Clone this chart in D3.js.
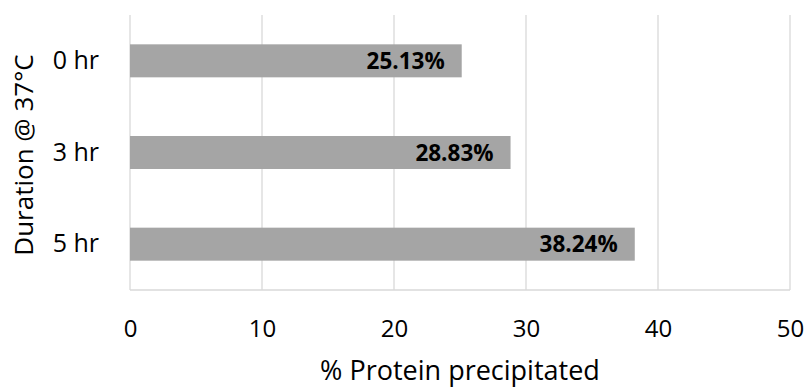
<!DOCTYPE html>
<html><head><meta charset="utf-8">
<script src="https://cdn.jsdelivr.net/npm/d3@7"></script>
<style>body{margin:0;background:#fff}svg{display:block}text{font-family:"Open Sans","Noto Sans",sans-serif}</style>
</head><body>
<svg id="c" width="806" height="388"></svg>
<script>
const categories = ["0 hr","3 hr","5 hr"];
const values = [25.13, 28.83, 38.24];
const xTicks = [0,10,20,30,40,50];
const xTitle = "% Protein precipitated";
const yTitle = "Duration @ 37°C";

const svg = d3.select("#c");
const m = {l:130, r:16, t:15, b:98};
const W = 806, H = 388;
const x = d3.scaleLinear().domain([0,50]).range([m.l, W-m.r]);
const y = d3.scaleBand().domain(categories).range([m.t, H-m.b]).paddingInner(0.64).paddingOuter(0.32);

svg.append("g").selectAll("line").data(xTicks).join("line")
  .attr("x1", d=>x(d)).attr("x2", d=>x(d)).attr("y1", m.t).attr("y2", H-m.b)
  .attr("stroke","#d9d9d9").attr("stroke-width",1.3);
svg.append("line").attr("x1",m.l).attr("x2",W-m.r).attr("y1",H-m.b).attr("y2",H-m.b)
  .attr("stroke","#d9d9d9").attr("stroke-width",1.3);

svg.append("g").selectAll("rect").data(values).join("rect")
  .attr("x", x(0)).attr("y",(d,i)=>y(categories[i]))
  .attr("width", d=>x(d)-x(0)).attr("height", y.bandwidth())
  .attr("fill","#a5a5a5");

svg.append("g").selectAll("text").data(values).join("text")
  .attr("x", d=>x(d)-17).attr("y",(d,i)=>y(categories[i])+y.bandwidth()/2)
  .attr("dy","0.36em").attr("text-anchor","end")
  .style("font-size","22.5px").attr("font-weight","bold").attr("fill","#000")
  .text(d=>d.toFixed(2)+"%");

const xa = svg.append("g").attr("transform",`translate(0,${H-m.b})`)
  .call(d3.axisBottom(x).tickValues(xTicks).tickSize(0).tickPadding(0));
xa.select(".domain").remove();
xa.selectAll("text").attr("dy",null).attr("y",47).style("font-size","24px").attr("fill","#000").attr("font-family",null);

const ya = svg.append("g").attr("transform",`translate(${m.l},0)`)
  .call(d3.axisLeft(y).tickSize(0).tickPadding(31));
ya.select(".domain").remove();
ya.selectAll("text").style("font-size","25px").attr("fill","#000").attr("font-family",null);

svg.append("text").attr("x",(x(0)+x(50))/2).attr("y",380).attr("text-anchor","middle")
  .style("font-size","27px").attr("fill","#000").text(xTitle);
svg.append("text").attr("transform",`translate(33,155) rotate(-90)`)
  .attr("text-anchor","middle").style("font-size","26px").attr("fill","#000").text(yTitle);
</script>
</body></html>
